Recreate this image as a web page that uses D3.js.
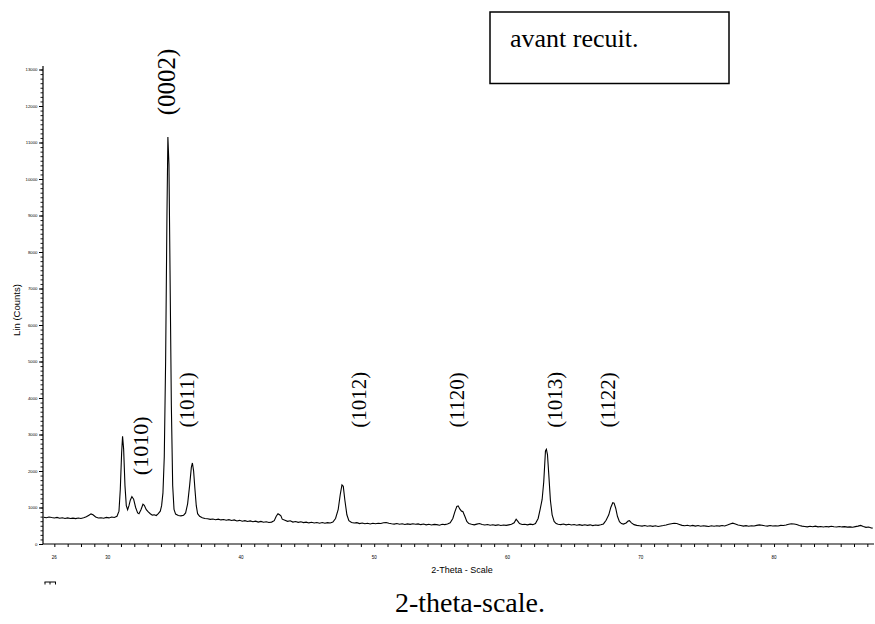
<!DOCTYPE html>
<html>
<head>
<meta charset="utf-8">
<script src="https://cdn.jsdelivr.net/npm/d3@7/dist/d3.min.js"></script>
<style>
  html, body { margin: 0; padding: 0; background: #fff; }
  svg { display: block; }
</style>
</head>
<body>
<svg id="chart" width="875" height="624"></svg>
<script>
// ---- data (2-theta in degrees, intensity in counts) ----
const theta = [
25.2,25.4,25.6,25.8,26.0,26.2,26.4,26.6,26.8,27.0,27.2,27.4,27.6,27.8,28.0,28.2,28.4,28.6,28.75,28.9,
29.1,29.3,29.5,29.7,29.9,30.1,30.3,30.5,30.7,30.85,30.95,31.05,31.12,31.2,31.3,31.4,31.5,31.6,31.7,31.82,
31.95,32.1,32.25,32.35,32.5,32.65,32.75,32.9,33.05,33.2,33.35,33.5,33.65,33.8,33.95,34.05,34.15,34.25,34.35,34.45,
34.52,34.6,34.68,34.78,34.88,34.98,35.1,35.3,35.5,35.7,35.85,36.0,36.15,36.28,36.36,36.45,36.55,36.65,36.75,36.9,
37.1,37.3,37.5,37.7,37.9,38.1,38.3,38.5,38.7,38.9,39.1,39.3,39.5,39.7,39.9,40.1,40.3,40.5,40.7,40.9,
41.1,41.3,41.5,41.7,41.9,42.1,42.3,42.5,42.65,42.78,42.9,43.0,43.1,43.3,43.5,43.7,43.9,44.1,44.3,44.5,
44.7,44.9,45.1,45.3,45.5,45.7,45.9,46.1,46.3,46.5,46.7,46.9,47.1,47.3,47.45,47.58,47.68,47.8,47.95,48.1,
48.3,48.5,48.7,48.9,49.1,49.3,49.5,49.7,49.9,50.1,50.3,50.5,50.7,50.9,51.1,51.3,51.5,51.7,51.9,52.1,
52.3,52.5,52.7,52.9,53.1,53.3,53.5,53.7,53.9,54.1,54.3,54.5,54.7,54.9,55.1,55.3,55.5,55.7,55.9,56.05,
56.2,56.3,56.42,56.55,56.65,56.8,56.95,57.1,57.3,57.5,57.7,57.9,58.1,58.3,58.5,58.7,58.9,59.1,59.3,59.5,
59.7,59.9,60.1,60.3,60.5,60.65,60.78,60.9,61.1,61.3,61.5,61.7,61.9,62.1,62.3,62.45,62.6,62.72,62.85,62.92,
63.0,63.1,63.22,63.35,63.5,63.65,63.8,64.0,64.2,64.4,64.6,64.8,65.0,65.2,65.4,65.6,65.8,66.0,66.2,66.4,
66.6,66.8,67.0,67.2,67.4,67.6,67.75,67.9,68.0,68.12,68.25,68.4,68.55,68.7,68.9,69.05,69.15,69.3,69.5,69.7,
69.9,70.1,70.3,70.5,70.7,70.9,71.1,71.3,71.5,71.7,71.9,72.1,72.3,72.5,72.7,72.9,73.1,73.3,73.5,73.7,
73.9,74.1,74.3,74.5,74.7,74.9,75.1,75.3,75.5,75.7,75.9,76.1,76.3,76.5,76.7,76.9,77.1,77.3,77.5,77.7,
77.9,78.1,78.3,78.5,78.7,78.9,79.1,79.3,79.5,79.7,79.9,80.1,80.3,80.5,80.7,80.9,81.1,81.3,81.5,81.7,
81.9,82.1,82.3,82.5,82.7,82.9,83.1,83.3,83.5,83.7,83.9,84.1,84.3,84.5,84.7,84.9,85.1,85.3,85.5,85.7,
85.9,86.1,86.3,86.5,86.7,86.9,87.1,87.3,87.4
];
const counts = [
735,718,740,725,712,728,705,720,700,715,698,708,695,712,700,718,745,790,825,800,
740,712,720,705,730,715,740,725,760,900,1500,2500,2950,2600,1600,1050,940,1050,1200,1300,
1230,1000,850,830,940,1090,1060,940,880,830,790,800,780,830,900,1050,1400,2400,5000,9000,
11150,10400,7500,3800,1600,950,820,780,770,790,850,1100,1600,2100,2220,2000,1500,1050,830,760,
720,700,690,675,685,665,680,660,672,650,668,645,660,630,648,625,640,615,632,610,
625,600,618,595,610,588,600,640,760,830,800,770,680,650,620,635,600,615,592,608,
585,600,578,595,575,590,570,588,568,585,575,600,700,950,1350,1620,1580,1200,800,640,
590,575,585,560,575,555,570,550,568,555,570,560,580,590,570,555,545,560,540,555,
535,552,538,555,540,552,530,548,525,540,522,538,530,515,540,530,550,580,700,880,
1030,1045,960,900,890,760,620,560,540,525,545,560,535,520,532,515,528,510,525,508,
522,510,525,540,580,680,620,560,535,540,525,545,530,560,700,950,1220,1700,2550,2595,
2450,1900,1200,800,620,560,540,530,548,525,540,520,535,515,530,512,528,510,525,505,
520,510,525,550,650,800,1000,1130,1120,980,760,610,560,545,575,630,640,580,530,510,
500,490,505,485,500,482,498,480,495,505,520,540,555,570,560,535,510,500,515,495,
510,490,505,485,500,490,480,498,485,500,490,505,495,520,550,570,550,520,505,490,
502,488,500,495,510,525,515,500,490,505,492,500,495,510,505,520,540,555,550,535,
505,490,480,470,485,472,488,470,478,465,480,470,485,472,465,480,468,475,462,470,
460,475,490,510,480,455,465,440,435
];
const xTickValues = d3.range(26, 88, 1);
const xTickLabels = [26, 30, 40, 50, 60, 70, 80];
const yTickValues = d3.range(0, 13001, 1000);
const yMinorValues = d3.range(0, 13001, 125);
const peakLabels = ["(0002)", "(1010)", "(1011)", "(1012)", "(1120)", "(1013)", "(1122)"];
const peakLabelTheta = [34.43, 32.5, 35.95, 48.85, 56.2, 63.6, 67.55];
const peakLabelCounts = [12660, 2690, 3950, 3950, 3950, 3950, 3950];
const peakLabelSize = [25, 22, 21, 21, 21, 21, 21];
const boxText = "avant recuit.";
const xTitle = "2-Theta - Scale";
const yTitle = "Lin (Counts)";
const caption = "2-theta-scale.";

// ---- drawing ----
const svg = d3.select("#chart");
const x = d3.scaleLinear().domain([25.15, 87.5]).range([43, 874]);
const y = d3.scaleLinear().domain([0, 13000]).range([544, 69.5]);
const data = theta.map((t, i) => [t, counts[i]]);
const sans = "'Liberation Sans', Arial, sans-serif";
const serif = "'Liberation Serif', 'Times New Roman', serif";

// data line
svg.append("path")
  .datum(data)
  .attr("fill", "none")
  .attr("stroke", "#000")
  .attr("stroke-width", 1.1)
  .attr("stroke-linejoin", "miter")
  .attr("d", d3.line().x(d => x(d[0])).y(d => y(d[1])));

// x axis
const xAxisG = svg.append("g").attr("transform", `translate(0,${y(0)})`);
xAxisG.append("line").attr("x1", 43).attr("x2", 874).attr("y1", 0).attr("y2", 0)
  .attr("stroke", "#000").attr("stroke-width", 1.2);
xAxisG.call(d3.axisBottom(x).tickValues(xTickValues).tickSize(3).tickFormat(""))
  .call(g => g.select(".domain").remove())
  .call(g => g.selectAll(".tick line").attr("stroke", "#000").attr("stroke-width", 1));
xAxisG.selectAll("text.xl").data(xTickLabels).enter().append("text")
  .attr("class", "xl")
  .attr("x", d => x(d)).attr("y", 14.5)
  .attr("text-anchor", "middle")
  .attr("font-family", sans).attr("font-size", 4.5).attr("fill", "#000")
  .text(d => d);

// y axis
const yAxisG = svg.append("g").attr("transform", `translate(${x(25.15)},0)`);
yAxisG.append("line").attr("x1", 0).attr("x2", 0).attr("y1", y(0)).attr("y2", 66)
  .attr("stroke", "#000").attr("stroke-width", 1.2);
yAxisG.append("g").call(d3.axisLeft(y).tickValues(yMinorValues).tickSize(2.5).tickFormat(""))
  .call(g => g.select(".domain").remove())
  .call(g => g.selectAll(".tick line").attr("stroke", "#000").attr("stroke-width", 0.9));
yAxisG.append("g").call(d3.axisLeft(y).tickValues(yTickValues).tickSize(4).tickPadding(1.5)
    .tickFormat(d => d))
  .call(g => g.select(".domain").remove())
  .call(g => g.selectAll(".tick line").attr("stroke", "#000").attr("stroke-width", 1))
  .call(g => g.selectAll(".tick text").attr("font-family", sans).attr("font-size", 4.3).attr("fill", "#000"));

// axis titles
svg.append("text")
  .attr("x", 462).attr("y", 573)
  .attr("text-anchor", "middle")
  .attr("font-family", sans).attr("font-size", 9).attr("fill", "#000")
  .text(xTitle);
svg.append("text")
  .attr("transform", "translate(19.5,310) rotate(-90)")
  .attr("text-anchor", "middle")
  .attr("font-family", sans).attr("font-size", 9.5).attr("fill", "#000")
  .text(yTitle);

// small scale mark below the axis
svg.append("path")
  .attr("d", "M44.5,582 H56 M45,582 V584.5 M50,582 V584.5 M55.5,582 V584.5")
  .attr("stroke", "#000").attr("stroke-width", 1).attr("fill", "none");

// peak labels (rotated)
svg.selectAll("text.peak").data(peakLabels).enter().append("text")
  .attr("class", "peak")
  .attr("transform", (d, i) => `translate(${x(peakLabelTheta[i])},${y(peakLabelCounts[i])}) rotate(-90)`)
  .attr("text-anchor", "middle")
  .attr("dominant-baseline", "central")
  .attr("font-family", serif)
  .attr("font-size", (d, i) => peakLabelSize[i])
  .attr("fill", "#000")
  .text(d => d);

// annotation box
svg.append("rect")
  .attr("x", 490).attr("y", 12).attr("width", 239).attr("height", 71.5)
  .attr("fill", "#fff").attr("stroke", "#000").attr("stroke-width", 1.5);
svg.append("text")
  .attr("x", 510).attr("y", 46.5)
  .attr("font-family", serif).attr("font-size", 26).attr("fill", "#000")
  .text(boxText);

// caption
svg.append("text")
  .attr("x", 470).attr("y", 612)
  .attr("text-anchor", "middle")
  .attr("font-family", serif).attr("font-size", 28).attr("fill", "#000")
  .text(caption);
</script>
</body>
</html>
